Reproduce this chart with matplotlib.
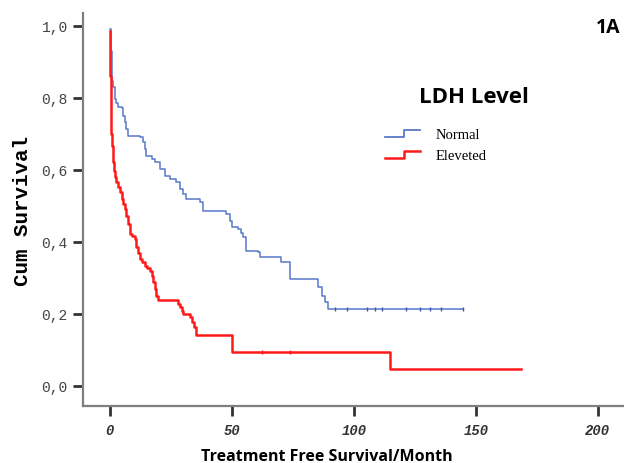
import numpy as np
import matplotlib
matplotlib.use("Agg")
import matplotlib.pyplot as plt
from matplotlib.legend_handler import HandlerBase
from matplotlib.lines import Line2D

normal_t = [0, 0.3, 0.7, 1.0, 1.4, 2.0, 2.7, 3.4, 4.8, 5.5, 6.1, 6.8, 7.5,
            12.3, 13.7, 14.3, 15.0, 17.1, 18.5, 20.5, 22.5, 24.5, 27.3, 28.7,
            30.0, 31.4, 36.9, 38.2, 47.8, 49.2, 50.2, 52.6, 53.6, 54.6, 56.0,
            60.8, 61.5, 70.0, 73.8, 85.5, 86.8, 88.2, 89.5, 144.7]
normal_s = [0.99, 0.93, 0.861, 0.845, 0.829, 0.796, 0.785, 0.773, 0.77, 0.75,
            0.731, 0.713, 0.694, 0.69, 0.676, 0.658, 0.639, 0.63, 0.62, 0.602,
            0.583, 0.574, 0.565, 0.546, 0.533, 0.519, 0.51, 0.486, 0.477, 0.458,
            0.44, 0.436, 0.424, 0.412, 0.375, 0.371, 0.357, 0.343, 0.297, 0.274,
            0.25, 0.232, 0.212, 0.212]
normal_cens = [92.2, 97.0, 105.2, 108.6, 111.4, 121.5, 127.0, 131.0, 135.7, 144.7]

elev_t = [0, 0.1, 0.2, 0.3, 0.4, 0.6, 0.8, 1.1, 1.4, 1.8, 2.2, 2.7, 3.4, 4.1,
          4.8, 5.4, 6.1, 6.8, 7.5, 8.2, 9.0, 10.2, 10.9, 11.6, 12.3, 13.3,
          14.3, 15.4, 16.4, 17.1, 17.8, 18.5, 19.1, 19.8, 28.0, 28.7, 29.4,
          30.0, 32.8, 33.5, 34.5, 35.5, 50.0, 114.8, 168.4]
elev_s = [0.985, 0.93, 0.86, 0.80, 0.75, 0.70, 0.667, 0.645, 0.62, 0.597, 0.58,
          0.565, 0.551, 0.537, 0.519, 0.505, 0.49, 0.472, 0.45, 0.422, 0.415,
          0.408, 0.385, 0.37, 0.352, 0.343, 0.334, 0.327, 0.32, 0.305, 0.288,
          0.27, 0.25, 0.237, 0.228, 0.218, 0.209, 0.2, 0.19, 0.177, 0.163, 0.14,
          0.093, 0.047, 0.047]
elev_cens = [62.2, 73.8]

x_ticks = [0, 50, 100, 150, 200]
y_ticks = [0.0, 0.2, 0.4, 0.6, 0.8, 1.0]

assert len(normal_t) == len(normal_s) and len(elev_t) == len(elev_s)

BLUE = '#5a78cc'
RED = '#ff1a1a'
GREY = '#7f7f7f'


def surv_at(ts, ss, x):
    i = np.searchsorted(ts, x, side='right') - 1
    return np.asarray(ss)[i]


class StepHandler(HandlerBase):
    # dibuja un pequeño escalón como símbolo de leyenda
    def create_artists(self, legend, orig, xd, yd, w, h, fontsize, trans):
        xs = [xd, xd + w * 0.55, xd + w * 0.55, xd + w]
        ys = [yd + h * 0.1, yd + h * 0.1, yd + h * 0.8, yd + h * 0.8]
        ln = Line2D(xs, ys, color=orig.get_color(), lw=orig.get_linewidth())
        ln.set_transform(trans)
        return [ln]


fig = plt.figure(figsize=(6.24, 4.64), dpi=100)
ax = fig.add_axes([0.133, 0.122, 0.867, 0.848])

ax.step(normal_t, normal_s, where='post', color=BLUE, lw=1.1)
ax.step(elev_t, elev_s, where='post', color=RED, lw=1.8)
ax.plot(normal_cens, surv_at(normal_t, normal_s, normal_cens), ls='none',
        marker='|', ms=3, mew=1, color='#3a56aa')
ax.plot(elev_cens, surv_at(elev_t, elev_s, elev_cens), ls='none',
        marker='|', ms=3, mew=1, color=RED)

ax.set_xlim(-11, 210.7)
ax.set_ylim(-0.057, 1.035)

for side in ['top', 'right']:
    ax.spines[side].set_visible(False)
for side in ['left', 'bottom']:
    ax.spines[side].set_color(GREY)
    ax.spines[side].set_linewidth(1.6)

ax.set_xticks(x_ticks)
ax.set_xticklabels([str(v) for v in x_ticks], family='Liberation Mono',
                   style='italic', weight='bold', fontsize=10, color='#333333')
ax.set_yticks(y_ticks)
ax.set_yticklabels([f"{v:.1f}".replace('.', ',') for v in y_ticks],
                   family='Liberation Mono', fontsize=10.5, color='#444444')
ax.tick_params(axis='both', direction='out', length=7, width=2, color='#333333')
ax.tick_params(axis='x', pad=5)
ax.tick_params(axis='y', pad=4)

ax.set_ylabel('Cum Survival', family='Liberation Mono', weight='bold',
              fontsize=15)
ax.yaxis.set_label_coords(-0.094, 0.5)
fig.text(0.524, 0.015, 'Treatment Free Survival/Month', ha='center',
         va='center', family='Open Sans', weight='bold', fontsize=11.5)

fig.text(0.76, 0.79, 'LDH Level', ha='center', va='center',
         family='Open Sans', weight='bold', fontsize=16)
fig.text(0.975, 0.94, '1A', ha='center', va='center',
         family='Open Sans', weight='bold', fontsize=14)

h_norm = Line2D([], [], color=BLUE, lw=1.3)
h_elev = Line2D([], [], color=RED, lw=1.8)
ax.legend([h_norm, h_elev], ['Normal', 'Eleveted'],
          handler_map={Line2D: StepHandler()},
          loc='upper left', bbox_to_anchor=(0.6, 0.745),
          bbox_transform=fig.transFigure, frameon=False,
          prop={'family': 'Liberation Serif', 'size': 10.5},
          handlelength=2.4, handletextpad=1.1, labelspacing=0.55,
          borderpad=0.2)

fig.savefig('out.png', dpi=100)
